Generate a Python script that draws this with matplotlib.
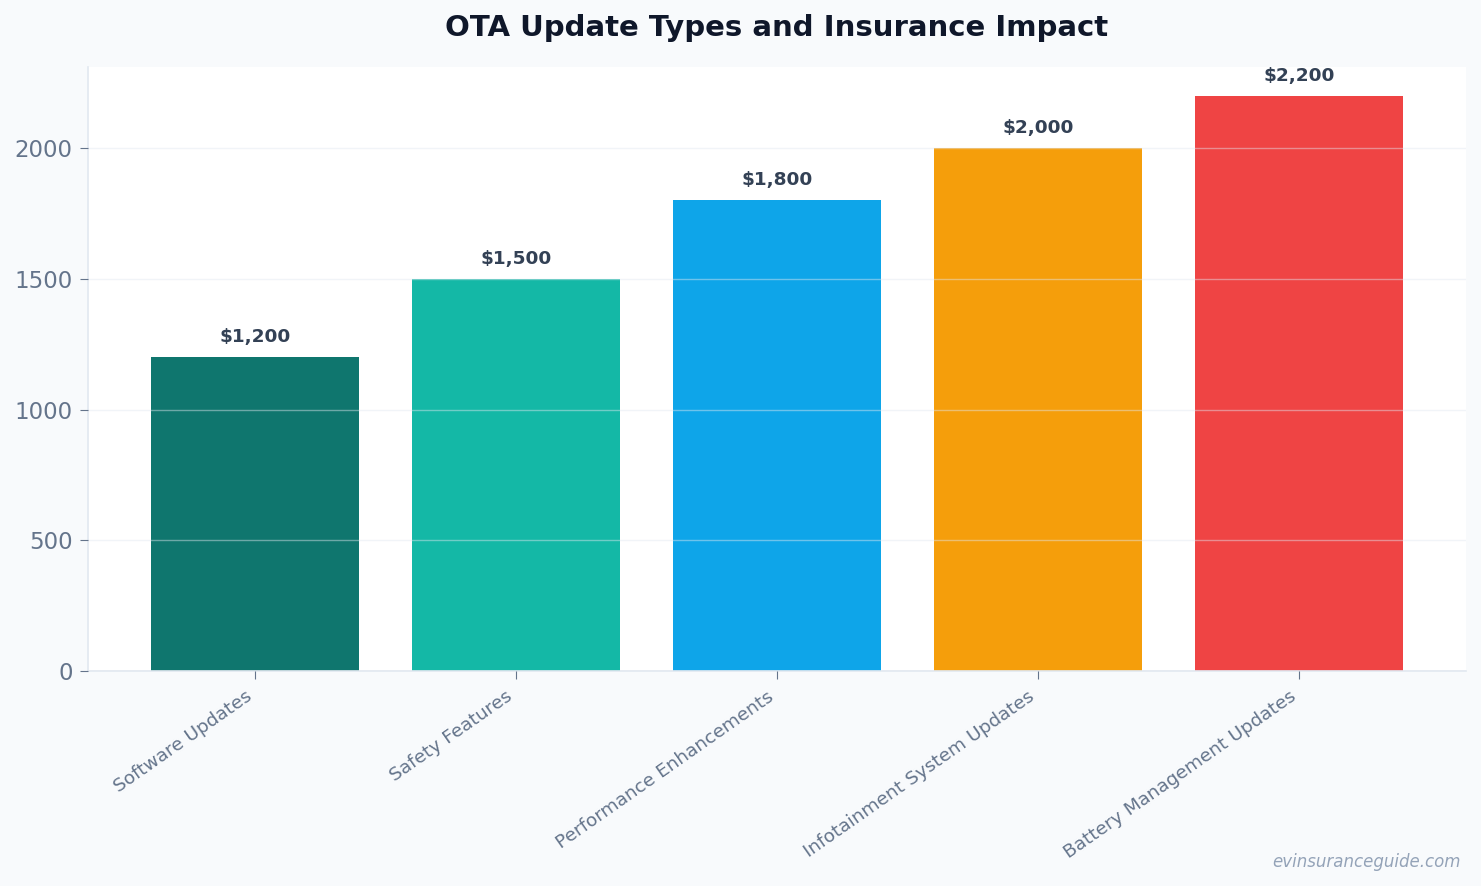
import matplotlib.pyplot as plt

categories = ["Software Updates", "Safety Features", "Performance Enhancements",
              "Infotainment System Updates", "Battery Management Updates"]
values = [1200, 1500, 1800, 2000, 2200]
colors = ["#0f766e", "#14b8a6", "#0ea5e9", "#f59e0b", "#ef4444"]

fig = plt.figure(figsize=(14.81, 8.86), dpi=100, facecolor="#f8fafc")
ax = fig.add_axes([0.0594, 0.2427, 0.9305, 0.6817])
ax.set_facecolor("white")

x = range(len(categories))
bars = ax.bar(x, values, width=0.8, color=colors, zorder=1)

for xi, v in zip(x, values):
    ax.annotate(f"${v:,}", (xi, v), xytext=(0, 8), textcoords="offset points",
                ha="center", va="bottom", fontsize=13.3, fontweight="bold",
                color="#334155")

ax.set_ylim(0, 2310)
ax.set_yticks([0, 500, 1000, 1500, 2000])
ax.set_xticks(list(x))
ax.set_xticklabels(categories, rotation=35, ha="right",
                   fontsize=13.3, color="#64748b")
ax.tick_params(axis="y", labelsize=16.5, colors="#64748b", length=6, pad=5)
ax.tick_params(axis="x", colors="#64748b", length=6, pad=6)
for lbl in ax.get_yticklabels():
    lbl.set_color("#64748b")

ax.grid(axis="y", color="#e2e8f0", alpha=0.45, linewidth=1, zorder=2)
ax.set_axisbelow(False)

for s in ["top", "right"]:
    ax.spines[s].set_visible(False)
for s in ["left", "bottom"]:
    ax.spines[s].set_color("#e2e8f0")
    ax.spines[s].set_linewidth(1.2)

ax.set_title("OTA Update Types and Insurance Impact", fontsize=21,
             fontweight="bold", color="#0f172a", pad=22)
fig.text(0.986, 0.027, "evinsuranceguide.com", ha="right", va="center",
         fontsize=12, style="italic", color="#94a3b8")

fig.savefig("out.png", dpi=100, facecolor=fig.get_facecolor())
